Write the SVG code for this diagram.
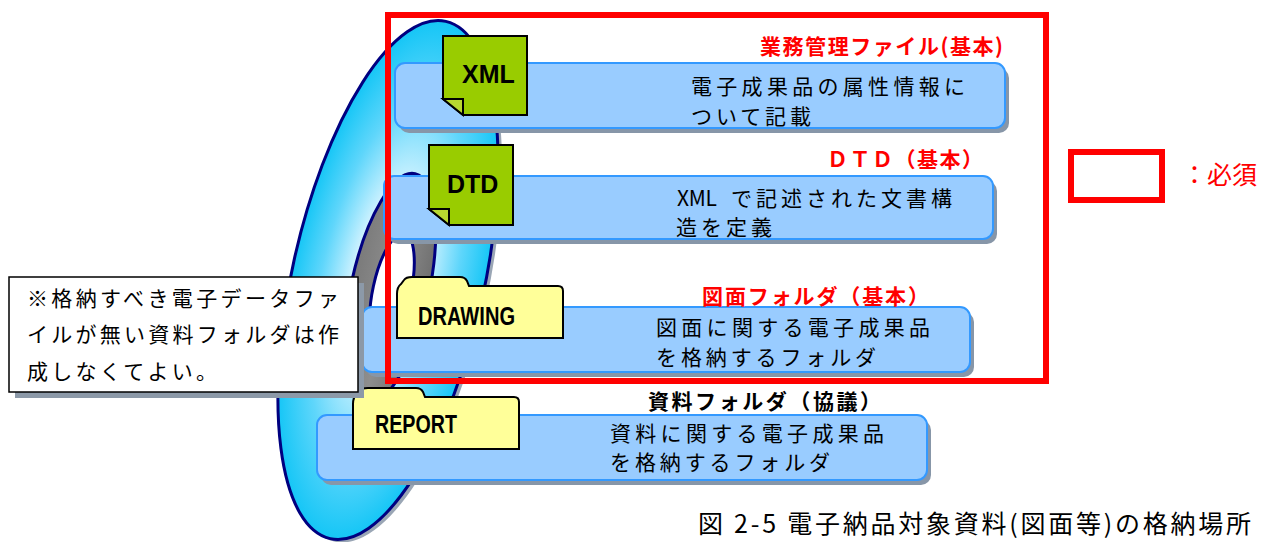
<svg xmlns="http://www.w3.org/2000/svg" width="1263" height="542" viewBox="0 0 1263 542">
  <style>
    .jp { font-family: "Noto Sans CJK JP", sans-serif; }
    .body { font-size: 21px; fill: #000; }
    .title { font-size: 21px; font-weight: bold; }
    .red { fill: #ff0000; }
    .lbl { font-family: "Liberation Sans", Arial, sans-serif; font-weight: bold; font-size: 25px; fill: #000; }
    .panel { fill: #99ccff; stroke: #3399ff; stroke-width: 2; }
    .panel-shadow { fill: #8796a8; }
    .doc { fill: #99cc00; stroke: #000; stroke-width: 2; stroke-linejoin: miter; }
    .fold { fill: #b8d830; stroke: #000; stroke-width: 2; }
    .folder { fill: #ffff99; stroke: #000; stroke-width: 2; }
  </style>
  <defs>
    <radialGradient id="discFill" cx="0.5" cy="0.5" r="0.5">
      <stop offset="0" stop-color="#ffffff"/>
      <stop offset="0.35" stop-color="#d6f4ff"/>
      <stop offset="0.7" stop-color="#5fd6fb"/>
      <stop offset="1" stop-color="#15c6f6"/>
    </radialGradient>
    <linearGradient id="hubFill" x1="0" y1="0" x2="1" y2="0">
      <stop offset="0" stop-color="#7a7a7a"/>
      <stop offset="0.5" stop-color="#8e8e8e"/>
      <stop offset="1" stop-color="#6f6f6f"/>
    </linearGradient>
  </defs>

  <!-- disc -->
  <g id="disc">
    <ellipse cx="392" cy="283" rx="96" ry="265" transform="rotate(12.6 392 283)" fill="#9aa6b5"/>
    <ellipse cx="388" cy="280" rx="96" ry="265" transform="rotate(12.6 388 280)" fill="url(#discFill)" stroke="#000080" stroke-width="3"/>
    <ellipse cx="390" cy="289" rx="39" ry="118" transform="rotate(12.3 390 289)" fill="url(#hubFill)" stroke="#000080" stroke-width="3"/>
    <ellipse cx="392" cy="290" rx="19" ry="58" transform="rotate(12.3 392 290)" fill="#ffffff" stroke="#000080" stroke-width="3"/>
  </g>

  <!-- XML: business management file -->
  <g id="node-xml">
    <rect class="panel-shadow" x="399" y="68" width="610" height="65" rx="10"/>
    <rect class="panel" x="395" y="63" width="610" height="65" rx="10"/>
    <path class="doc" d="M443,36 H527 V115 H463 L443,99 Z"/>
    <path class="fold" d="M443,99 H463 V115 Z"/>
    <text class="lbl" x="462" y="83">XML</text>
    <text class="jp body" x="691" y="94" textLength="274" lengthAdjust="spacing">電子成果品の属性情報に</text>
    <text class="jp body" x="691" y="124" textLength="120" lengthAdjust="spacing">ついて記載</text>
  </g>

  <!-- DTD -->
  <g id="node-dtd">
    <rect class="panel-shadow" x="388" y="181" width="609" height="63" rx="10"/>
    <rect class="panel" x="384" y="176" width="609" height="63" rx="10"/>
    <path class="doc" d="M429,145 H513 V225 H449 L429,209 Z"/>
    <path class="fold" d="M429,209 H449 V225 Z"/>
    <text class="lbl" x="447" y="193">DTD</text>
    <text class="jp body" x="677" y="206" textLength="40" lengthAdjust="spacing">XML</text>
    <text class="jp body" x="731" y="206" textLength="221" lengthAdjust="spacing">で記述された文書構</text>
    <text class="jp body" x="676" y="235" textLength="96" lengthAdjust="spacing">造を定義</text>
  </g>

  <!-- DRAWING folder -->
  <g id="node-drawing">
    <rect class="panel-shadow" x="366" y="312" width="608" height="65" rx="10"/>
    <rect class="panel" x="362" y="307" width="608" height="65" rx="10"/>
    <path class="folder" d="M397,338 V294 Q397,287 401,284 L404,280 Q406,277 412,277 H460 Q465,277 467,281 L469,286 H558 Q563,286 563,291 V338 Z"/>
    <text class="lbl" x="418" y="325" font-size="24" textLength="97" lengthAdjust="spacingAndGlyphs">DRAWING</text>
    <text class="jp body" x="656" y="335" textLength="274" lengthAdjust="spacing">図面に関する電子成果品</text>
    <text class="jp body" x="656" y="365" textLength="220" lengthAdjust="spacing">を格納するフォルダ</text>
  </g>

  <!-- REPORT folder -->
  <g id="node-report">
    <rect class="panel-shadow" x="321" y="420" width="610" height="65" rx="10"/>
    <rect class="panel" x="317" y="415" width="610" height="65" rx="10"/>
    <path class="folder" d="M353,449 V404 Q353,397 357,394 L360,390 Q362,388 368,388 H416 Q421,388 423,392 L425,397 H514 Q519,397 519,402 V449 Z"/>
    <text class="lbl" x="375" y="433" font-size="24" textLength="82" lengthAdjust="spacingAndGlyphs">REPORT</text>
    <text class="jp body" x="610" y="441" textLength="274" lengthAdjust="spacing">資料に関する電子成果品</text>
    <text class="jp body" x="610" y="470" textLength="220" lengthAdjust="spacing">を格納するフォルダ</text>
  </g>

  <!-- note box -->
  <g id="note">
    <rect x="15" y="283" width="349" height="115" fill="#8c99a8"/>
    <rect x="9" y="277" width="349" height="115" fill="#ffffff" stroke="#000" stroke-width="1.5"/>
    <text class="jp body" x="27" y="306" textLength="312" lengthAdjust="spacing">※格納すべき電子データファ</text>
    <text class="jp body" x="27" y="342" textLength="312" lengthAdjust="spacing">イルが無い資料フォルダは作</text>
    <text class="jp body" x="27" y="379" textLength="190" lengthAdjust="spacing">成しなくてよい。</text>
  </g>

  <!-- required-items frame -->
  <g id="required-frame">
    <rect x="388" y="15" width="658" height="366" fill="none" stroke="#ff0000" stroke-width="6"/>
  </g>

  <!-- section titles -->
  <g id="titles">
    <text class="jp title red" x="760" y="54" textLength="243" lengthAdjust="spacing">業務管理ファイル(基本)</text>
    <text class="jp title red" x="827" y="167" textLength="156" lengthAdjust="spacing">ＤＴＤ（基本）</text>
    <text class="jp title red" x="702" y="304" textLength="227" lengthAdjust="spacing">図面フォルダ（基本）</text>
    <text class="jp title" x="648" y="409" textLength="233" lengthAdjust="spacing" fill="#000">資料フォルダ（協議）</text>
  </g>

  <!-- legend -->
  <g id="legend">
    <rect x="1071" y="152" width="91" height="48" fill="#ffffff" stroke="#ff0000" stroke-width="6"/>
    <text class="jp red" x="1182" y="184" font-size="25">：必須</text>
  </g>

  <!-- caption -->
  <text class="jp" x="698" y="533" font-size="25" textLength="553" lengthAdjust="spacing" fill="#000">図 2-5 電子納品対象資料(図面等)の格納場所</text>
</svg>
